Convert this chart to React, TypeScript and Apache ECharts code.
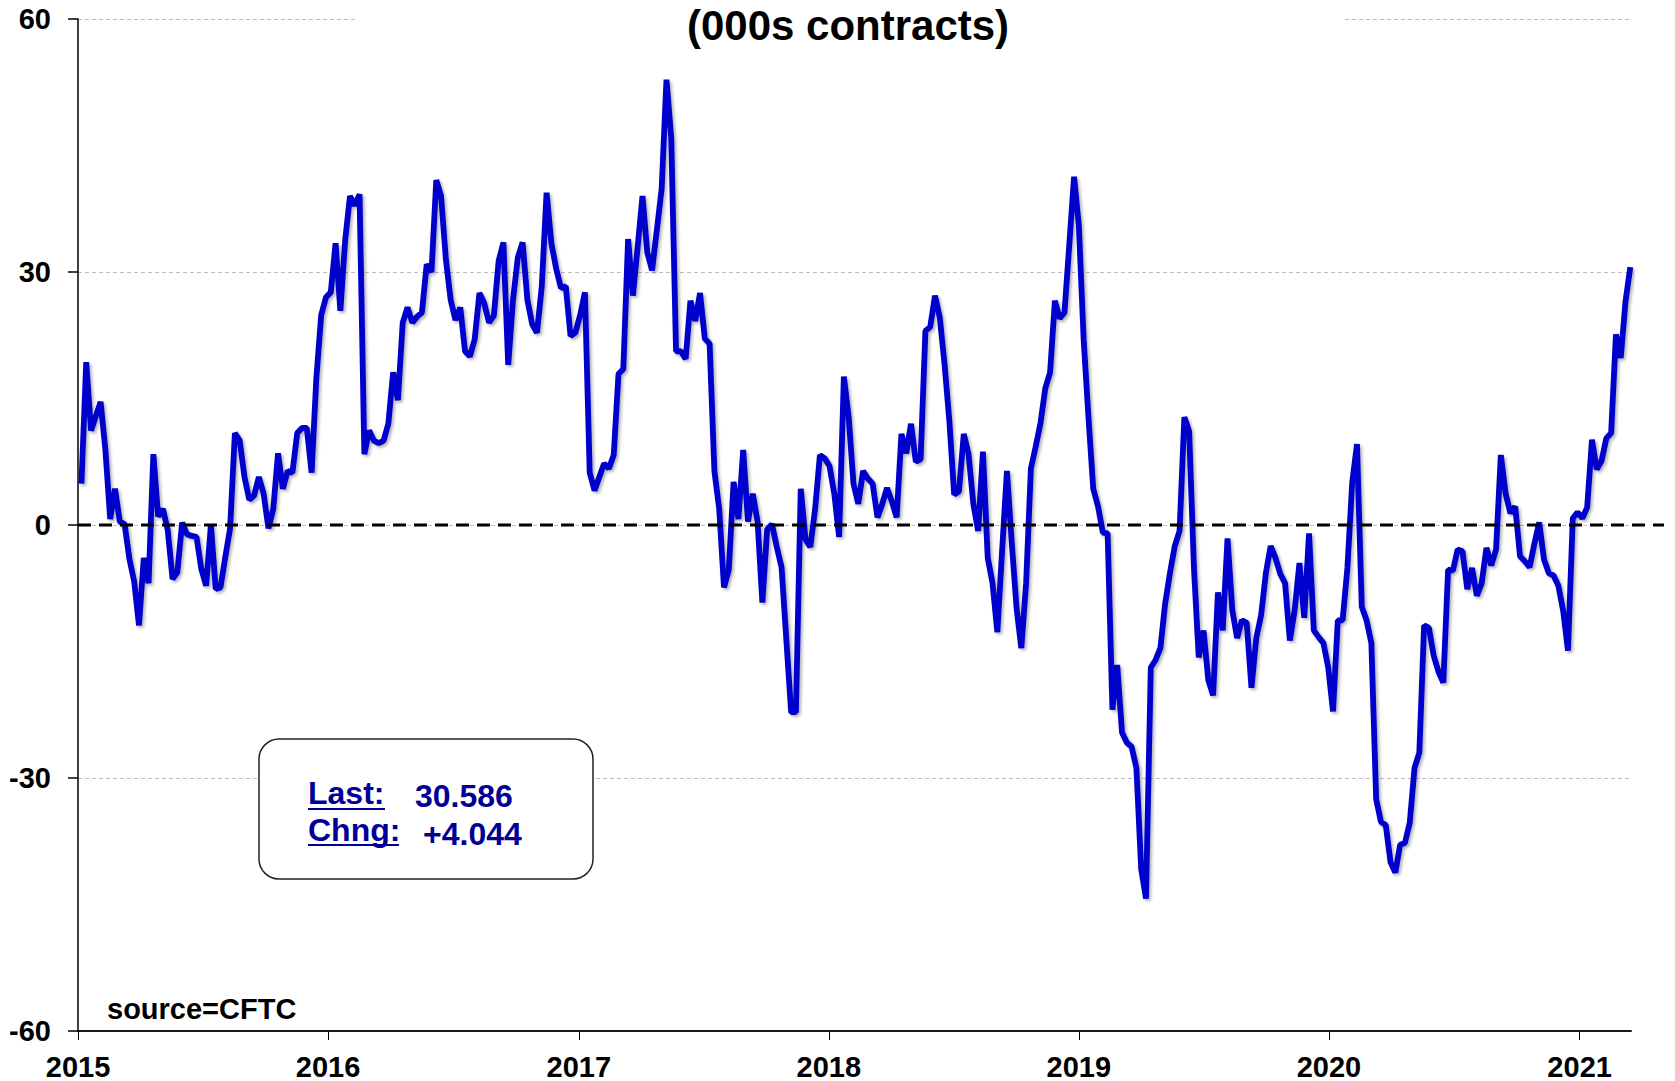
import React, { useEffect, useRef } from "react";
import * as echarts from "echarts";

// Weekly net positions (000s contracts), first report 2015-01-06
const START_UTC = Date.UTC(2015, 0, 6);
const WEEK_MS = 7 * 86400000;

const chunk1 = [
  4.9, 19.3, 11.2, 12.9, 14.6, 8.9, 0.7, 4.3, 0.4, 0.1, -4, -6.7, -11.9, -3.9, -6.9, 8.4, 1, 1.9, -0.6, -6.4,
  -5.6, 0.3, -1.1, -1.3, -1.4, -5.2, -7.2, 0, -7.6, -7.4, -3.8, -0.4, 10.9, 10, 5.7, 3, 3.5, 5.7, 3.7, -0.4,
  1.9, 8.5, 4.3, 6.4, 6.2, 10.9, 11.5, 11.5, 6.2, 17.5, 24.9, 27,
];
const chunk2 = [
  27.6, 33.4, 25.4, 33.8, 39, 37.9, 39.2, 8.4, 11.2, 10, 9.7, 10, 12, 18.1, 14.8, 24, 25.8, 24, 24.7, 25.2,
  30.9, 30, 40.9, 39, 31.5, 26.7, 24.3, 25.8, 20.6, 20, 22, 27.5, 26.3, 24, 24.8, 31.3, 33.5, 19, 26.7, 31.7,
  33.5, 26.7, 23.8, 22.8, 28.3, 39.4, 33.4, 30.4, 28.1, 28.3, 22.4, 22.8,
];
const chunk3 = [
  24.9, 27.6, 6.2, 4.1, 5.7, 7.3, 6.7, 8.3, 17.9, 18.5, 33.9, 27.2, 33, 39, 32.3, 30.2, 35, 39.9, 52.8, 45.9,
  20.6, 20.6, 19.7, 26.6, 24.2, 27.5, 22.1, 21.5, 6.4, 1.9, -7.4, -5.3, 5.1, 0.7, 8.9, 0.4, 3.7, 0.4, -9.2, -0.5,
  0.1, -2.6, -5, -13.6, -22.2, -22.2, 4.3, -1.7, -2.6, 1.9, 8.3, 7.9,
];
const chunk4 = [
  7, 3.7, -1.4, 17.6, 12.8, 4.9, 2.5, 6.4, 5.5, 4.9, 0.9, 2.5, 4.4, 2.8, 0.9, 10.8, 8.5, 12, 7.5, 7.8,
  23, 23.5, 27.2, 24.6, 19, 12.3, 3.6, 4, 10.8, 8.4, 2.5, -0.7, 8.7, -3.9, -6.9, -12.7, -3, 6.4, -2, -9.8,
  -14.6, -6.9, 6.7, 9.3, 12.1, 16.2, 18.1, 26.6, 24.5, 25.2, 33.2, 41.3,
];
const chunk5 = [
  35.5, 22, 12.8, 4.3, 2.2, -0.9, -1, -21.9, -16.6, -24.6, -25.8, -26.3, -28.8, -40.8, -44.3, -16.9, -16, -14.6, -9.3, -5.7,
  -2.5, -0.7, 12.8, 11.1, -5.1, -15.7, -12.5, -18.4, -20.2, -8, -12.5, -1.6, -10.1, -13.4, -11.3, -11.6, -19.3, -13.4, -10.7, -5.7,
  -2.5, -3.9, -5.8, -6.9, -13.7, -10.1, -4.5, -11, -1, -12.5, -13.3, -14,
];
const chunk6 = [
  -16.9, -22.1, -11.3, -11.3, -5.1, 5, 9.6, -9.7, -11.3, -14, -32.5, -35.2, -35.6, -40, -41.2, -37.9, -37.7, -35.3, -28.8, -27,
  -11.9, -12.2, -15.5, -17.4, -18.7, -5.3, -5.4, -2.9, -3.1, -7.6, -5.1, -8.4, -6.9, -2.7, -4.8, -2.9, 8.3, 3.7, 1.4, 2.2,
  -3.7, -4.3, -5, -2.2, 0.3, -4.1, -5.7, -6, -7.2, -10.2, -14.9, 0.8,
];
const chunk7 = [1.5, 0.8, 2.1, 10.1, 6.6, 7.6, 10.3, 10.9, 22.6, 19.8, 26.542, 30.586];

const positions = [...chunk1, ...chunk2, ...chunk3, ...chunk4, ...chunk5, ...chunk6, ...chunk7];

const yearTicks = [2015, 2016, 2017, 2018, 2019, 2020, 2021];
const X_MIN = Date.UTC(2015, 0, 1);
const X_MAX = Date.UTC(2021, 2, 17);

const titleText = "(000s contracts)";
const sourceText = "source=CFTC";
const lastLabel = "Last:";
const lastValue = "30.586";
const chngLabel = "Chng:";
const chngValue = "+4.044";

const FONT = "'Liberation Sans', Arial, Helvetica, sans-serif";
const NAVY = "#000099";

function txt(id: string, text: string, x: number, y: number, size: number, fill: string, align = "left", z = 6) {
  return {
    type: "text",
    id,
    x,
    y,
    z,
    style: {
      text,
      fontSize: size,
      fontWeight: "bold",
      fontFamily: FONT,
      fill,
      align,
      verticalAlign: "middle",
    },
  };
}

export default function App() {
  const ref = useRef<HTMLDivElement>(null);

  useEffect(() => {
    if (!ref.current) return;
    const chart = echarts.init(ref.current, null, { renderer: "svg" });
    const data = positions.map((v, i) => [START_UTC + i * WEEK_MS, v]);
    const yearValues = yearTicks.map((y) => Date.UTC(y, 0, 1));

    chart.setOption({
      animation: false,
      backgroundColor: "#ffffff",
      grid: { left: 78, right: 44, top: 19, bottom: 50, containLabel: false },
      xAxis: {
        type: "value",
        min: X_MIN,
        max: X_MAX,
        axisLine: { show: true, onZero: false, lineStyle: { color: "#1a1a1a", width: 2 } },
        axisTick: {
          show: true,
          length: 9,
          customValues: yearValues,
          lineStyle: { color: "#000", width: 1 },
        },
        axisLabel: {
          customValues: yearValues,
          formatter: (v: number) => String(new Date(v).getUTCFullYear()),
          fontSize: 29,
          fontWeight: "bold",
          fontFamily: FONT,
          color: "#000",
          margin: 21,
        },
        splitLine: { show: false },
      },
      yAxis: {
        type: "value",
        min: -60,
        max: 60,
        interval: 30,
        axisLine: { show: true, lineStyle: { color: "#000", width: 1.5 } },
        axisTick: { show: true, length: 10, lineStyle: { color: "#000", width: 1.5 } },
        axisLabel: {
          fontSize: 29,
          fontWeight: "bold",
          fontFamily: FONT,
          color: "#000",
          margin: 27,
        },
        splitLine: { show: true, lineStyle: { type: [4, 3], color: "#bdbdbd", width: 1 } },
      },
      series: [
        {
          type: "line",
          data,
          symbol: "none",
          showSymbol: false,
          z: 3,
          lineStyle: {
            color: "#0000CC",
            width: 5.8,
            shadowColor: "rgba(0,0,0,0.3)",
            shadowBlur: 3,
            shadowOffsetX: 2,
            shadowOffsetY: 2,
          },
        },
      ],
      graphic: [
        { type: "rect", id: "titleBg", z: 5, shape: { x: 358, y: 0, width: 986, height: 55 }, style: { fill: "#fff" } },
        txt("title", titleText, 848, 25, 42, "#000", "center"),
        {
          type: "rect",
          id: "box",
          z: 5,
          shape: { x: 259, y: 739, width: 334, height: 140, r: 20 },
          style: { fill: "#fff", stroke: "#222", lineWidth: 1.5 },
        },
        txt("lastL", lastLabel, 308, 793, 32, NAVY),
        txt("lastV", lastValue, 415, 796, 32, NAVY),
        txt("chngL", chngLabel, 308, 830, 32, NAVY),
        txt("chngV", chngValue, 423, 834, 32, NAVY),
        { type: "line", id: "ul1", z: 6, shape: { x1: 308, y1: 809, x2: 385, y2: 809 }, style: { stroke: NAVY, lineWidth: 2 } },
        { type: "line", id: "ul2", z: 6, shape: { x1: 308, y1: 845, x2: 399, y2: 845 }, style: { stroke: NAVY, lineWidth: 2 } },
        txt("source", sourceText, 107, 1009, 29, "#000"),
      ],
    });

    const y0 = chart.convertToPixel({ yAxisIndex: 0 }, 0) as number;
    const x0 = chart.convertToPixel({ xAxisIndex: 0 }, X_MIN) as number;
    chart.setOption({
      graphic: [
        {
          type: "line",
          id: "zero",
          z: 10,
          shape: { x1: x0, y1: y0, x2: 1664, y2: y0 },
          style: { stroke: "#000", lineWidth: 3, lineDash: [13, 8] },
        },
      ],
    });

    return () => chart.dispose();
  }, []);

  return (
    <div
      ref={ref}
      style={{ position: "absolute", left: 0, top: 0, width: 1675, height: 1081, background: "#fff" }}
    />
  );
}
